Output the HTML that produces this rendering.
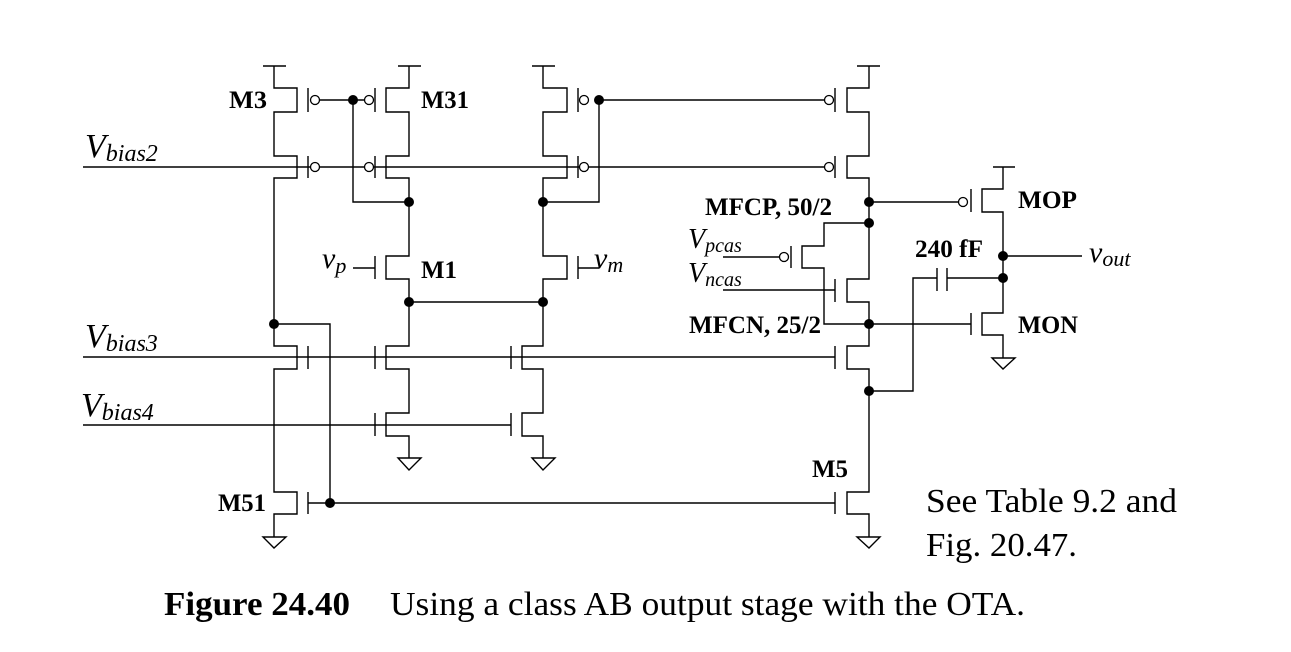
<!DOCTYPE html>
<html><head><meta charset="utf-8"><style>
html,body{margin:0;padding:0;background:#fff;}
svg{display:block;}
.b{font-family:"Liberation Serif",serif;font-weight:bold;font-size:25px;}
.i{font-family:"Liberation Serif",serif;font-style:italic;}
.r{font-family:"Liberation Serif",serif;}
</style></head><body>
<svg width="1291" height="652" viewBox="0 0 1291 652" xmlns="http://www.w3.org/2000/svg">
<g stroke="#000" stroke-width="1.4" fill="none">
<path d="M263 66H286M398 66H421M532 66H555M857 66H880M993 167H1015"/>
<path d="M274 66V88H297V112H274V156H297V178H274V346H297V369H274V492H297V514H274V537"/>
<path d="M308 88V112M308 156V178M308 346V369M308 492V514"/>
<path d="M409 66V88H386V112H409V156H386V178H409V256H386V279H409V346H386V369H409V413H386V436H409V458"/>
<path d="M375 88V112M375 156V178M375 256V279M375 346V369M375 413V436"/>
<path d="M543 66V88H567V112H543V156H567V178H543V256H567V279H543V346H522V369H543V413H522V436H543V458"/>
<path d="M578 88V112M578 156V178M578 256V279M511 346V369M511 413V436"/>
<path d="M869 66V88H847V112H869V156H847V178H869V279H847V302H869V346H847V369H869V492H847V514H869V537"/>
<path d="M835 88V112M835 156V178M835 279V302M835 346V369M835 492V514"/>
<path d="M869 223H824V246H802V268H824V324H971"/>
<path d="M791 246V268M723 257H780"/>
<path d="M723 290H835"/>
<path d="M1003 167V189H982V212H1003V313H982V335H1003V358"/>
<path d="M971 189V212M971 313V335"/>
<path d="M869 202H959"/>
<path d="M1003 256H1082"/>
<path d="M937 268V291M947 268V291M947 278H1003M937 278H913V391H869"/>
<path d="M319 100H365M603 100H825"/>
<path d="M83 167H311M319 167H365M373 167H580M588 167H825"/>
<path d="M353 100V202H409M599 100V202H543"/>
<path d="M353 268H375M578 268H599"/>
<path d="M409 302H543"/>
<path d="M274 324H330V503M308 503H835"/>
<path d="M83 357H835"/>
<path d="M83 425H511"/>
<path d="M263 537H286L274 548Z M398 458H421L409 470Z M532 458H555L543 470Z M857 537H880L869 548Z M992 358H1015L1003 369Z"/>
</g>
<g stroke="#000" stroke-width="1.3" fill="#fff">
<circle cx="315" cy="100" r="4.5"/><circle cx="369" cy="100" r="4.5"/>
<circle cx="584" cy="100" r="4.5"/><circle cx="829" cy="100" r="4.5"/>
<circle cx="315" cy="167" r="4.5"/><circle cx="369" cy="167" r="4.5"/>
<circle cx="584" cy="167" r="4.5"/><circle cx="829" cy="167" r="4.5"/>
<circle cx="963" cy="202" r="4.5"/><circle cx="784" cy="257" r="4.5"/>
</g>
<g fill="#000">
<circle cx="353" cy="100" r="5"/><circle cx="599" cy="100" r="5"/>
<circle cx="409" cy="202" r="5"/><circle cx="543" cy="202" r="5"/>
<circle cx="409" cy="302" r="5"/><circle cx="543" cy="302" r="5"/>
<circle cx="274" cy="324" r="5"/><circle cx="330" cy="503" r="5"/>
<circle cx="869" cy="202" r="5"/><circle cx="869" cy="223" r="5"/>
<circle cx="869" cy="324" r="5"/><circle cx="869" cy="391" r="5"/>
<circle cx="1003" cy="256" r="5"/><circle cx="1003" cy="278" r="5"/>
</g>
<text class="b" x="229" y="108" textLength="38" lengthAdjust="spacingAndGlyphs">M3</text>
<text class="b" x="421" y="108" textLength="48" lengthAdjust="spacingAndGlyphs">M31</text>
<text class="b" x="421" y="278" textLength="36" lengthAdjust="spacingAndGlyphs">M1</text>
<text class="b" x="218" y="511" textLength="48" lengthAdjust="spacingAndGlyphs">M51</text>
<text class="b" x="812" y="477" textLength="36" lengthAdjust="spacingAndGlyphs">M5</text>
<text class="b" x="705" y="215" textLength="127" lengthAdjust="spacingAndGlyphs">MFCP, 50/2</text>
<text class="b" x="689" y="333" textLength="132" lengthAdjust="spacingAndGlyphs">MFCN, 25/2</text>
<text class="b" x="915" y="257" textLength="68" lengthAdjust="spacingAndGlyphs">240 fF</text>
<text class="b" x="1018" y="208" textLength="59" lengthAdjust="spacingAndGlyphs">MOP</text>
<text class="b" x="1018" y="333" textLength="60" lengthAdjust="spacingAndGlyphs">MON</text>
<text class="i" x="322" y="268" font-size="30">v<tspan font-size="22" dy="5">p</tspan></text>
<text class="i" x="594" y="268" font-size="30">v<tspan font-size="22" dy="4">m</tspan></text>
<text class="i" x="1089" y="262" font-size="30">v<tspan font-size="22" dy="4">out</tspan></text>
<text class="i" x="688" y="248" font-size="28">V<tspan font-size="20" dy="4">pcas</tspan></text>
<text class="i" x="688" y="282" font-size="28">V<tspan font-size="20" dy="4">ncas</tspan></text>
<text class="i" x="85" y="157" font-size="34">V<tspan font-size="24" dy="4">bias2</tspan></text>
<text class="i" x="85" y="347" font-size="34">V<tspan font-size="24" dy="4">bias3</tspan></text>
<text class="i" x="81" y="416" font-size="34">V<tspan font-size="24" dy="4">bias4</tspan></text>
<text class="r" x="926" y="512" font-size="34" textLength="251" lengthAdjust="spacingAndGlyphs">See Table 9.2 and</text>
<text class="r" x="926" y="556" font-size="34" textLength="151" lengthAdjust="spacingAndGlyphs">Fig. 20.47.</text>
<text class="r" x="164" y="615" font-size="34" font-weight="bold" textLength="186" lengthAdjust="spacingAndGlyphs">Figure 24.40</text>
<text class="r" x="390" y="615" font-size="34" textLength="635" lengthAdjust="spacingAndGlyphs">Using a class AB output stage with the OTA.</text>
</svg>
</body></html>
